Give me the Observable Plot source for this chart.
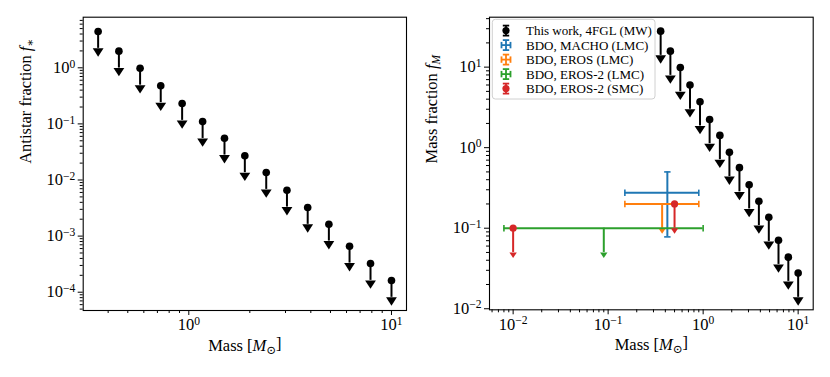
<!DOCTYPE html>
<html><head><meta charset="utf-8">
<script src="https://cdn.jsdelivr.net/npm/d3@7"></script>
<script src="https://cdn.jsdelivr.net/npm/@observablehq/plot@0.6"></script>
<style>
body{margin:0;background:#fff;}
#wrap{position:relative;width:830px;height:377px;display:flex;}
#wrap svg{display:block;}
</style></head><body><div id="wrap"></div>
<script>
// ---- data ----
const masses = [0.357,0.452,0.575,0.727,0.927,1.17,1.50,1.89,2.41,3.05,3.86,4.91,6.21,7.88,10.0];
const antistarFraction = [4.44,1.98,0.98,0.478,0.231,0.110,0.0556,0.027,0.0136,0.00658,0.00324,0.00163,0.00066,0.000325,0.000162];
const massFraction = [28,15.8,9.9,6.0,3.72,2.24,1.42,0.875,0.565,0.347,0.216,0.137,0.071,0.0437,0.0277];
// BDO constraints
const machoLMC = [{m:0.42, mLo:0.15, mHi:0.9, f:0.275, fLo:0.078, fHi:0.5}];
const erosLMC = [{m:0.37, mLo:0.15, mHi:0.9, f:0.2}];
const eros2LMC = [{m:0.09, mLo:0.008, mHi:1.0, f:0.1}];
const eros2SMC = [{m:0.01, f:0.1},{m:0.5, f:0.2}];
const legendLabels = ["This work, 4FGL (MW)","BDO, MACHO (LMC)","BDO, EROS (LMC)","BDO, EROS-2 (LMC)","BDO, EROS-2 (SMC)"];
const legendColors = ["#000000","#1f77b4","#ff7f0e","#2ca02c","#d62728"];
const xTicksLeft = [1,10];
const yTicksLeft = [1e-4,1e-3,1e-2,1e-1,1];
const xTicksRight = [0.01,0.1,1,10];
const yTicksRight = [0.01,0.1,1,10];
const limitFactor = 0.5; // upper-limit arrow length (y -> y*0.5)

const FONT = "'Liberation Serif', 'DejaVu Serif', serif";
const W = 415, H = 377;

function fmt(v){ const e = Math.round(Math.log10(v)); return "10^" + (e < 0 ? "\u2212" + (-e) : String(e)); }
function minor(lo, hi){ const t=[]; for(let e=Math.floor(Math.log10(lo)); e<=Math.ceil(Math.log10(hi)); e++) for(let k=2;k<=9;k++){ const v=k*Math.pow(10,e); if(v>=lo && v<=hi) t.push(v);} return t; }

const arrowBig = {draw(ctx){ ctx.moveTo(-5.4,0); ctx.lineTo(5.4,0); ctx.lineTo(0,8.3); ctx.closePath(); }};
const arrowSmall = {draw(ctx){ ctx.moveTo(-3.7,0); ctx.lineTo(3.7,0); ctx.lineTo(0,5.5); ctx.closePath(); }};
const capV = {draw(ctx){ ctx.moveTo(0,-3.2); ctx.lineTo(0,3.2); }};
const capH = {draw(ctx){ ctx.moveTo(-3.2,0); ctx.lineTo(3.2,0); }};

function axes(xdom, ydom, xt, yt){
  return [
    Plot.axisX(minor(...xdom), {tickSize:3, tickFormat:()=>"", label:null}),
    Plot.axisY(minor(...ydom), {tickSize:3, tickFormat:()=>"", label:null}),
    Plot.axisX(xt, {tickSize:5, tickPadding:3, tickFormat:fmt, label:null}),
    Plot.axisY(yt, {tickSize:5, tickPadding:3, tickFormat:fmt, label:null}),
    Plot.frame({stroke:"black", strokeWidth:1.1})
  ];
}

function limits(data, x, y, color, arrow, sw){
  return [
    Plot.ruleX(data, {x, y1:y, y2:d=>d[y]*limitFactor, stroke:color, strokeWidth:sw}),
    Plot.dot(data, {x, y:d=>d[y]*limitFactor, symbol:arrow, fill:color, stroke:"none", r:4})
  ];
}

// ---- left panel ----
const mw = masses.map((m,i)=>({m, fa:antistarFraction[i], fm:massFraction[i]}));
const leftX = [0.3013, 11.86], leftY = [4.72e-5, 7.98];
const left = Plot.plot({
  width:W, height:H, marginLeft:82.7, marginRight:9, marginTop:16.7, marginBottom:67,
  style:{fontFamily:FONT, fontSize:"16.5px", background:"white", color:"black"},
  x:{type:"log", domain:leftX},
  y:{type:"log", domain:leftY},
  marks:[
    ...axes(leftX, leftY, xTicksLeft, yTicksLeft),
    ...limits(mw, "m", "fa", "black", arrowBig, 2),
    Plot.dot(mw, {x:"m", y:"fa", r:3.8, fill:"black"}),
    Plot.text(["Antistar fraction"], {frameAnchor:"left", dx:-57.7, rotate:-90, fontSize:16.5}),
    Plot.text(["Mass"], {frameAnchor:"bottom", dy:40, fontSize:16.5})
  ]
});

// ---- right panel ----
const rightX = [0.00564, 14.4], rightY = [0.0097, 41.7];
const blue="#1f77b4", orange="#ff7f0e", green="#2ca02c", red="#d62728";
function hbar(data, color){
  return [
    Plot.ruleY(data, {y:"f", x1:"mLo", x2:"mHi", stroke:color, strokeWidth:2}),
    Plot.dot(data, {x:"mLo", y:"f", symbol:capV, stroke:color, strokeWidth:1.6, fill:"none"}),
    Plot.dot(data, {x:"mHi", y:"f", symbol:capV, stroke:color, strokeWidth:1.6, fill:"none"})
  ];
}
const right = Plot.plot({
  width:W, height:H, marginLeft:74, marginRight:17.3, marginTop:16.7, marginBottom:67.7,
  style:{fontFamily:FONT, fontSize:"16.5px", background:"white", color:"black"},
  x:{type:"log", domain:rightX},
  y:{type:"log", domain:rightY},
  marks:[
    ...axes(rightX, rightY, xTicksRight, yTicksRight),
    ...limits(mw, "m", "fm", "black", arrowBig, 2),
    Plot.dot(mw, {x:"m", y:"fm", r:3.8, fill:"black"}),
    // MACHO LMC
    ...hbar(machoLMC, blue),
    Plot.ruleX(machoLMC, {x:"m", y1:"fLo", y2:"fHi", stroke:blue, strokeWidth:2}),
    Plot.dot(machoLMC, {x:"m", y:"fLo", symbol:capH, stroke:blue, strokeWidth:1.6, fill:"none"}),
    Plot.dot(machoLMC, {x:"m", y:"fHi", symbol:capH, stroke:blue, strokeWidth:1.6, fill:"none"}),
    // EROS LMC
    ...hbar(erosLMC, orange),
    ...limits(erosLMC, "m", "f", orange, arrowSmall, 2),
    // EROS-2 LMC
    ...hbar(eros2LMC, green),
    ...limits(eros2LMC, "m", "f", green, arrowSmall, 2),
    // EROS-2 SMC
    ...limits(eros2SMC, "m", "f", red, arrowSmall, 2),
    Plot.dot(eros2SMC, {x:"m", y:"f", r:3.6, fill:red}),
    Plot.text(["Mass fraction"], {frameAnchor:"left", dx:-58, rotate:-90, fontSize:16.5}),
    Plot.text(["Mass"], {frameAnchor:"bottom", dy:40, fontSize:16.5})
  ]
});

const wrap = document.getElementById("wrap");
wrap.appendChild(left); wrap.appendChild(right);

// rich text: superscripts / italics / subscripts
function richTicks(svg){
  d3.select(svg).selectAll("text").each(function(){
    const m = this.textContent.match(/^10\^(.+)$/);
    if(m){ const s=d3.select(this); s.text(""); s.append("tspan").text("10");
      s.append("tspan").attr("dy","-0.48em").attr("font-size","70%").text(m[1]); }
  });
}
function setRich(svg, content, parts){
  d3.select(svg).selectAll("text").filter(function(){ return this.textContent === content; }).each(function(){
    const s=d3.select(this); s.text("");
    for(const p of parts){ const t=s.append("tspan").text(p.t);
      if(p.i) t.attr("font-style","italic"); if(p.s) t.attr("font-size",p.s); if(p.dy) t.attr("dy",p.dy); }
  });
}
richTicks(left); richTicks(right);
setRich(left, "Antistar fraction", [{t:"Antistar fraction "},{t:"f",i:1},{t:"\u2217",s:"70%",dy:"0.3em"}]);
setRich(right, "Mass fraction", [{t:"Mass fraction "},{t:"f",i:1},{t:"M",i:1,s:"70%",dy:"0.3em"}]);
for(const svg of [left,right]) setRich(svg, "Mass", [{t:"Mass ["},{t:"M",i:1},{t:"\u2299",s:"70%",dy:"0.3em"},{t:"]",dy:"-0.3em"}]);

// legend (inside right panel)
const lg = d3.select(right).append("g").attr("font-family",FONT).attr("font-size","13px").attr("text-anchor","start");
lg.append("rect").attr("x",77.3).attr("y",19.3).attr("width",162.7).attr("height",79.7)
  .attr("rx",3).attr("fill","white").attr("fill-opacity",0.8).attr("stroke","#d0d0d0").attr("stroke-width",1);
legendLabels.forEach((lab,i)=>{
  const cy = 30.6 + 14.5*i, cx = 91, c = legendColors[i];
  const g = lg.append("g").attr("stroke",c).attr("stroke-width",1.8);
  g.append("line").attr("x1",cx).attr("x2",cx).attr("y1",cy-5).attr("y2",cy+5);
  g.append("line").attr("x1",cx-3.2).attr("x2",cx+3.2).attr("y1",cy-5).attr("y2",cy-5);
  g.append("line").attr("x1",cx-3.2).attr("x2",cx+3.2).attr("y1",cy+5).attr("y2",cy+5);
  if(i>=1 && i<=3){
    g.append("line").attr("x1",cx-4.5).attr("x2",cx+4.5).attr("y1",cy).attr("y2",cy);
    g.append("line").attr("x1",cx-4.5).attr("x2",cx-4.5).attr("y1",cy-3.2).attr("y2",cy+3.2);
    g.append("line").attr("x1",cx+4.5).attr("x2",cx+4.5).attr("y1",cy-3.2).attr("y2",cy+3.2);
  } else {
    g.append("circle").attr("cx",cx).attr("cy",cy).attr("r",3.6).attr("fill",c).attr("stroke","none");
  }
  lg.append("text").attr("x",111).attr("y",cy).attr("dy","0.35em").attr("fill","black").attr("text-anchor","start").text(lab);
});
</script></body></html>
